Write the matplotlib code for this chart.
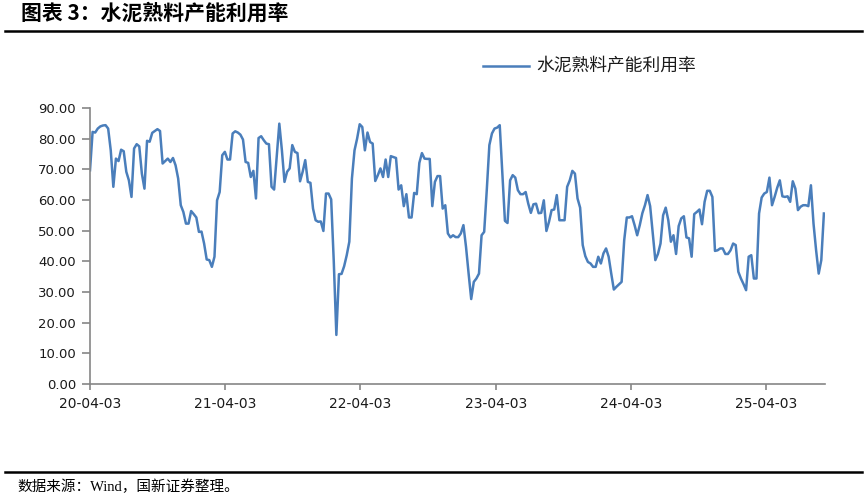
import matplotlib
matplotlib.use("Agg")
import matplotlib.pyplot as plt
import matplotlib.dates as mdates
import pandas as pd
from matplotlib.lines import Line2D

plt.rcParams['font.family'] = ['DejaVu Sans', 'Noto Sans CJK SC']

# ---- data (weekly, starting 2020-04-03) ----
start_date = "2020-04-03"
utilization = [
    69.7, 82.2, 82.0, 83.3, 84.0, 84.3, 84.4, 83.3, 76.2, 64.3,
    73.5, 72.7, 76.4, 75.9, 69.2, 66.4, 61.0, 76.8, 78.2, 77.5,
    68.6, 63.7, 79.3, 79.0, 81.9, 82.5, 83.1, 82.5, 71.9, 72.7,
    73.5, 72.4, 73.7, 71.3, 67.0, 58.3, 56.1, 52.3, 52.3, 56.4,
    55.4, 54.3, 49.6, 49.7, 45.8, 40.6, 40.4, 38.2, 41.5, 59.9,
    62.6, 74.6, 75.7, 73.2, 73.2, 81.7, 82.4, 82.0, 81.3, 79.7,
    72.4, 72.1, 67.5, 69.5, 60.5, 80.2, 80.8, 79.5, 78.4, 78.2,
    64.3, 63.4, 74.0, 84.9, 76.2, 65.9, 69.2, 70.3, 77.9, 75.7,
    75.3, 66.1, 69.2, 73.0, 65.9, 65.6, 57.2, 53.4, 52.9, 53.0,
    49.9, 62.1, 62.1, 60.2, 40.0, 16.0, 35.8, 35.9, 38.4, 42.0,
    46.4, 67.0, 76.2, 80.0, 84.7, 83.8, 76.2, 82.0, 78.9, 78.4,
    66.2, 68.1, 70.3, 67.5, 73.2, 67.5, 74.3, 74.0, 73.7, 63.4,
    64.8, 58.0, 61.9, 54.3, 54.3, 62.3, 61.9, 72.1, 75.3, 73.5,
    73.4, 73.4, 58.0, 65.9, 67.8, 67.8, 57.2, 58.3, 49.1, 47.8,
    48.5, 47.9, 47.9, 49.1, 51.8, 44.7, 36.0, 27.7, 33.3, 34.4,
    36.0, 48.5, 49.6, 63.2, 77.9, 81.7, 83.3, 83.6, 84.4, 68.5,
    53.2, 52.5, 66.4, 68.1, 67.3, 63.2, 61.9, 61.9, 62.6, 58.8,
    55.8, 58.6, 58.8, 55.7, 55.8, 59.9, 49.9, 52.9, 56.7, 56.9,
    61.6, 53.4, 53.4, 53.4, 64.3, 66.4, 69.5, 68.6, 60.5, 57.5,
    45.3, 41.7, 39.8, 39.3, 38.2, 38.2, 41.5, 39.3, 42.6, 44.2,
    41.5, 36.0, 30.8, 31.7, 32.5, 33.3, 46.9, 54.3, 54.3, 54.7,
    51.8, 48.5, 51.8, 55.7, 58.3, 61.6, 58.0, 49.1, 40.4, 42.4,
    45.8, 55.0, 57.5, 53.4, 46.4, 48.5, 42.4, 51.5, 54.0, 54.7,
    47.8, 47.5, 41.5, 55.4, 56.1, 56.9, 52.1, 59.4, 63.0, 63.0,
    61.0, 43.4, 43.6, 44.2, 44.2, 42.4, 42.4, 43.6, 45.8, 45.3,
    36.6, 34.4, 32.6, 30.6, 41.5, 42.0, 34.4, 34.4, 55.6, 60.8,
    62.1, 62.6, 67.3, 58.3, 61.0, 64.0, 66.4, 61.2, 61.0, 61.2,
    59.4, 66.1, 63.7, 56.7, 57.8, 58.3, 58.3, 58.0, 64.8, 52.3,
    43.6, 36.0, 40.4, 55.6,
]
series_label = "水泥熟料产能利用率"
tick_dates = ["2020-04-03", "2021-04-03", "2022-04-03", "2023-04-03", "2024-04-03", "2025-04-03"]
y_ticks = [0, 10, 20, 30, 40, 50, 60, 70, 80, 90]
title_text = "图表 3：水泥熟料产能利用率"
source_text = "数据来源：Wind，国新证券整理。"

dates = pd.date_range(start_date, periods=len(utilization), freq="7D")

fig = plt.figure(figsize=(8.68, 5.01), dpi=100)
ax = fig.add_axes([90/868, 1-384/501, (825-90)/868, (384-108)/501])

line_color = "#4A7EBB"
ax.plot(dates, utilization, color=line_color, lw=1.8, solid_joinstyle='round')

ax.set_ylim(0, 90)
ax.set_yticks(y_ticks)
ax.set_yticklabels([f"{v:.2f}" for v in y_ticks])
ax.set_xlim(pd.Timestamp(start_date), dates[-1] + pd.Timedelta(days=3))
ax.set_xticks(pd.to_datetime(tick_dates))
ax.xaxis.set_major_formatter(mdates.DateFormatter("%y-%m-%d"))

for s in ["top", "right"]:
    ax.spines[s].set_visible(False)
for s in ["left", "bottom"]:
    ax.spines[s].set_color("#868686")
    ax.spines[s].set_linewidth(1.2)

ax.tick_params(axis='y', length=6, width=1.2, color="#868686", pad=4,
               labelsize=9.5, labelcolor="#1a1a1a")
ax.tick_params(axis='x', length=4.5, width=1.2, color="#868686", pad=5,
               labelsize=10, labelcolor="#1a1a1a")

# legend (manual, figure coords)
fig.add_artist(Line2D([483/868, 529/868], [1-66/501, 1-66/501],
                      color=line_color, lw=1.8, transform=fig.transFigure))
fig.text(536/868, 1-66/501, series_label, fontsize=12.8, va='center', ha='left',
         family=['Noto Sans CJK SC', 'DejaVu Sans'], color="#1a1a1a")

# title and rules
fig.text(21/868, 1-13/501, title_text, fontsize=15, fontweight='bold', va='center', ha='left',
         family=['Noto Sans CJK SC', 'DejaVu Sans'], color="#000000")
fig.add_artist(Line2D([5/868, 862/868], [1-31/501, 1-31/501], color='black', lw=1.8,
                      transform=fig.transFigure))
fig.add_artist(Line2D([5/868, 862/868], [1-472/501, 1-472/501], color='black', lw=1.8,
                      transform=fig.transFigure))
fig.text(17/868, 1-487/501, source_text, fontsize=10.5, va='center', ha='left',
         family=['Liberation Serif', 'Noto Sans CJK SC'], color="#000000")

fig.savefig("out.png", dpi=100)
